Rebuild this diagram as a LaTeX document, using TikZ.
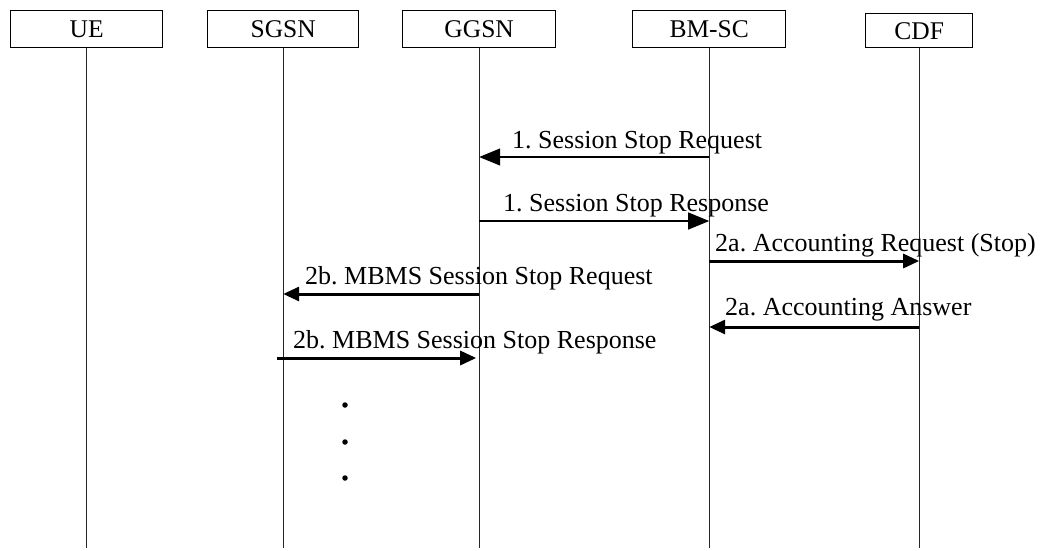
\documentclass[tikz,border=0pt]{standalone}
\usepackage{fontspec}
\setmainfont{Liberation Serif}
\usetikzlibrary{arrows.meta}
\frenchspacing
\begin{document}
\begin{tikzpicture}[x=1pt,y=-1pt,
  ent/.style={draw,line width=1.4pt,minimum height=37pt,inner sep=0pt,anchor=north west,font=\fontsize{25.5}{30}\selectfont},
  life/.style={line width=0.9pt,black!85},
  lbl/.style={font=\fontsize{26}{30}\selectfont,inner sep=0pt,anchor=base west},
  thinmsg/.style={line width=1.2pt,-{Triangle[length=21pt,width=17pt]}},
  thickmsg/.style={line width=3pt,-{Triangle[length=16pt,width=14pt]}},
  dotm/.style={circle,fill,inner sep=0pt,minimum size=5.5pt}]
\useasboundingbox (0,0) rectangle (1052,550);
% entities
\node[ent,minimum width=152pt] (ue) at (10,10) {UE};
\node[ent,minimum width=151pt] (sgsn) at (207,10) {SGSN};
\node[ent,minimum width=153pt] (ggsn) at (402,10) {GGSN};
\node[ent,minimum width=153pt] (bmsc) at (632,10) {BM-SC};
\node[ent,minimum width=107pt,minimum height=34pt] (cdf) at (865,13) {CDF};
% lifeline ends
\coordinate (ueE) at (ue.south |- 0,548);
\coordinate (sgE) at (sgsn.south |- 0,548);
\coordinate (ggE) at (ggsn.south |- 0,548);
\coordinate (bmE) at (bmsc.south |- 0,548);
\coordinate (cdE) at (cdf.south |- 0,548);
\draw[life] (ue.south) -- (ueE);
\draw[life] (sgsn.south) -- (sgE);
\draw[life] (ggsn.south) -- (ggE);
\draw[life] (bmsc.south) -- (bmE);
\draw[life] (cdf.south) -- (cdE);
% message points
\coordinate (bm1) at (bmsc.south |- 0,157);
\coordinate (gg1) at (ggsn.south |- 0,157);
\coordinate (gg2) at (ggsn.south |- 0,221);
\coordinate (bm2) at (bmsc.south |- 0,221);
\coordinate (bm3) at (bmsc.south |- 0,261);
\coordinate (cd3) at (cdf.south |- 0,261);
\coordinate (gg4) at (ggsn.south |- 0,294);
\coordinate (sg4) at (sgsn.south |- 0,294);
\coordinate (cd5) at (cdf.south |- 0,327);
\coordinate (bm5) at (bmsc.south |- 0,327);
\coordinate (sg6) at (277,358);
\coordinate (gg6) at ([xshift=-3pt]ggsn.south |- 0,358);
% messages
\draw[thinmsg] (bm1) -- (gg1);
\node[lbl] (l1) at (512,148) {1. Session Stop Request};
\draw[thinmsg] (gg2) -- (bm2);
\node[lbl] (l2) at (503,211) {1. Session Stop Response};
\draw[thickmsg] (bm3) -- (cd3);
\node[lbl] (l3) at (715,251) {2a. Accounting Request (Stop)};
\draw[thickmsg] (gg4) -- (sg4);
\node[lbl] (l4) at (305,284) {2b. MBMS Session Stop Request};
\draw[thickmsg] (cd5) -- (bm5);
\node[lbl] (l5) at (725,315) {2a. Accounting Answer};
\draw[thickmsg] (sg6) -- (gg6);
\node[lbl] (l6) at (293,348) {2b. MBMS Session Stop Response};
% continuation dots
\node[dotm] (d1) at (345,405) {};
\node[dotm] (d2) at (345,442) {};
\node[dotm] (d3) at (345,478) {};
\end{tikzpicture}
\end{document}
